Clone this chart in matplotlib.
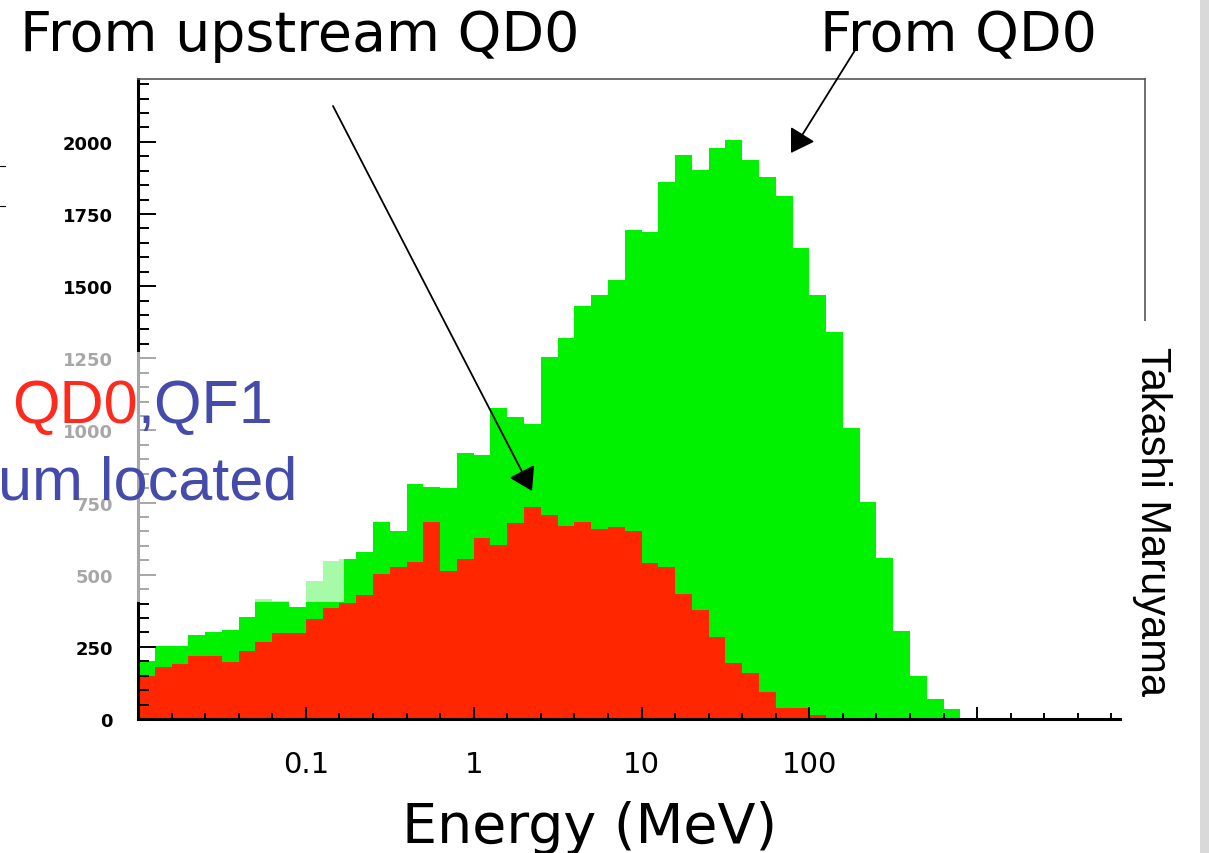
import numpy as np
import matplotlib
matplotlib.use("Agg")
import matplotlib.pyplot as plt
from matplotlib.patches import Rectangle, FancyArrowPatch
from matplotlib.lines import Line2D

# ---------------- data ----------------
log_e_min = -2          # 0.01 MeV
log_e_max = 4           # 10^4 MeV
n_bins = 60             # 0.1 decade per bin

# all photons ("From QD0", green)
total_counts = [200, 254, 254, 292, 300, 309, 354, 416, 410, 387,
                479, 546, 555, 580, 682, 653, 815, 803, 800, 922,
                915, 1078, 1048, 1022, 1254, 1319, 1430, 1471, 1523, 1693,
                1687, 1860, 1953, 1901, 1978, 2005, 1939, 1880, 1811, 1634,
                1468, 1340, 1008, 753, 558, 306, 150, 69, 35, 0,
                0, 0, 0, 0, 0, 0, 0, 0, 0, 0]
# photons from upstream of QD0 (red)
upstream_counts = [150, 179, 191, 219, 219, 196, 237, 266, 298, 298,
                   347, 384, 402, 430, 503, 526, 543, 682, 514, 555,
                   626, 604, 679, 734, 708, 668, 681, 660, 666, 653,
                   541, 526, 433, 377, 285, 194, 159, 95, 37, 37,
                   15, 0, 0, 0, 0, 0, 0, 0, 0, 0,
                   0, 0, 0, 0, 0, 0, 0, 0, 0, 0]

x_major_values = [0.1, 1, 10, 100, 1000]
x_major_labels = ["0.1", "1", "10", "100", ""]
y_major_values = [0, 250, 500, 750, 1000, 1250, 1500, 1750, 2000]
y_major_labels = ["0", "250", "500", "750", "1000", "1250", "1500", "1750", "2000"]
y_max = 2218

# ---------------- figure ----------------
W, H, DPI = 1209, 854, 100
fig = plt.figure(figsize=(W / DPI, H / DPI), dpi=DPI)
fig.patch.set_facecolor("white")


def fx(px):
    return px / W


def fy(py):
    return 1 - py / H


ax_l, ax_r, ax_t, ax_b = 138, 1145, 80, 720
ax = fig.add_axes([fx(ax_l), fy(ax_b), fx(ax_r - ax_l), (ax_b - ax_t) / H])

edges = np.logspace(log_e_min, log_e_max, n_bins + 1)
GREEN = "#00f200"
RED = "#ff2600"
ax.stairs(total_counts, edges, fill=True, color=GREEN, baseline=0)
ax.stairs(upstream_counts, edges, fill=True, color=RED, baseline=0)

ax.set_xscale("log")
ax.set_xlim(10.0 ** log_e_min, 10.0 ** log_e_max)
ax.set_ylim(0, y_max)

ax.set_xticks(x_major_values)
ax.set_xticklabels(x_major_labels)
minor_x = [10 ** v for v in np.arange(log_e_min, log_e_max + 0.001, 0.2)
           if abs(v - round(v)) > 1e-6]
ax.set_xticks(minor_x, minor=True)
ax.set_xticklabels([], minor=True)

ax.set_yticks(y_major_values)
ax.set_yticklabels(y_major_labels)
ax.set_yticks(np.arange(0, y_max, 50), minor=True)

ax.tick_params(axis="x", which="major", direction="in", length=8.6, width=1.4,
               pad=22, labelsize=21, color="black")
ax.tick_params(axis="x", which="minor", direction="in", length=4.3, width=1.4,
               color="black")
ax.tick_params(axis="y", which="major", direction="in", length=13, width=1.4,
               pad=18, labelsize=13, color="black")
ax.tick_params(axis="y", which="minor", direction="in", length=8, width=1.4,
               color="black")
for lab in ax.get_yticklabels():
    lab.set_fontweight("bold")
    lab.set_family("DejaVu Sans")

ax.spines["left"].set_linewidth(2.2)
ax.spines["bottom"].set_linewidth(2.2)
ax.spines["top"].set_linewidth(1.2)
ax.spines["top"].set_color("#555555")
ax.spines["right"].set_linewidth(1.2)
ax.spines["right"].set_color("#555555")

# titles / labels
fig.text(fx(20), fy(51), "From upstream QD0", fontsize=40, family="DejaVu Sans",
         ha="left", va="baseline", color="black")
fig.text(fx(820), fy(51), "From QD0", fontsize=40, family="DejaVu Sans",
         ha="left", va="baseline", color="black")
fig.text(fx(590), fy(828), "Energy (MeV)", fontsize=40, family="DejaVu Sans",
         ha="center", va="center", color="black")

# arrows
arrow_style = "-|>,head_length=0.4,head_width=0.25"
fig.add_artist(FancyArrowPatch(
    (fx(333), fy(107)), (fx(532), fy(492)), transform=fig.transFigure,
    arrowstyle=arrow_style, mutation_scale=35, lw=1.3, color="black",
    shrinkA=0, shrinkB=0, zorder=3))
fig.add_artist(FancyArrowPatch(
    (fx(857), fy(48)), (fx(791), fy(154)), transform=fig.transFigure,
    arrowstyle=arrow_style, mutation_scale=35, lw=1.3, color="black",
    shrinkA=0, shrinkB=0, zorder=3))

# semi-transparent slide text box on the left
fig.add_artist(Rectangle((0, fy(603)), fx(344), (603 - 353) / H,
                         transform=fig.transFigure, facecolor="white",
                         edgecolor="none", alpha=0.66, zorder=4))
t1 = fig.text(fx(12), fy(423), "QD0", fontsize=44, family="Liberation Sans",
              color="#ff2a1e", ha="left", va="baseline", zorder=6)
renderer = fig.canvas.get_renderer()
bb = t1.get_window_extent(renderer)
fig.text(bb.x1 / (W), fy(423), ",QF1", fontsize=44, family="Liberation Sans",
         color="#444bab", ha="left", va="baseline", zorder=6)
fig.text(fx(-2), fy(500), "um located", fontsize=44, family="Liberation Sans",
         color="#444bab", ha="left", va="baseline", zorder=6)

# white box with the author name on the right
fig.add_artist(Rectangle((fx(1122), fy(735)), fx(1192 - 1122), (735 - 322) / H,
                         transform=fig.transFigure, facecolor="white",
                         edgecolor="none", zorder=4))
fig.text(fx(1152), fy(522), "Takashi Maruyama", fontsize=30,
         family="Liberation Sans", rotation=270, ha="center", va="center",
         color="black", zorder=6)

# slide decorations
fig.add_artist(Rectangle((fx(1200), 0), fx(9), 1, transform=fig.transFigure,
                         facecolor="#d9d9d9", edgecolor="none", zorder=4))
for py in (167, 207):
    fig.add_artist(Line2D([0, fx(5)], [fy(py), fy(py)], transform=fig.transFigure,
                          color="black", lw=0.8, zorder=4))

fig.savefig("out.png", dpi=DPI, facecolor="white")
